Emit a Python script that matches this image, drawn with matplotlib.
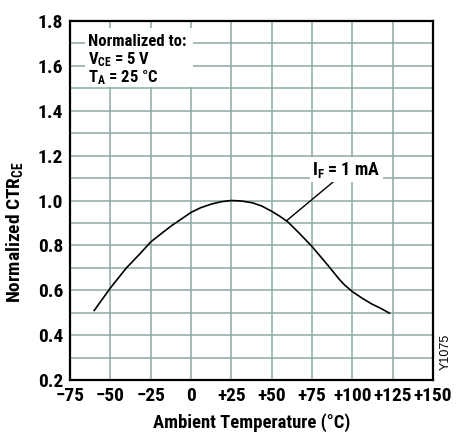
import matplotlib
matplotlib.use('Agg')
import matplotlib.pyplot as plt
from matplotlib import font_manager
from matplotlib.patches import Rectangle
import numpy as np

# data (IF = 1 mA)
temp = [-60, -55, -50, -45, -40, -32, -25, -18, -12, 0, 6, 13, 19, 25, 31, 38, 44, 50, 55, 60,
        67, 75, 85, 92, 95, 100, 106, 112, 118, 123]
ctr = [0.51, 0.56, 0.61, 0.655, 0.70, 0.76, 0.815, 0.855, 0.888, 0.947, 0.968, 0.985, 0.995, 1.0,
       0.998, 0.99, 0.975, 0.952, 0.93, 0.905, 0.855, 0.795, 0.71, 0.648, 0.625, 0.594, 0.565,
       0.539, 0.518, 0.498]

x_ticks = [-75, -50, -25, 0, 25, 50, 75, 100, 125, 150]
x_labels = ['\u221275', '\u221250', '\u221225', '0', '+25', '+50', '+75', '+100', '+125', '+150']
y_ticks = [0.2, 0.4, 0.6, 0.8, 1.0, 1.2, 1.4, 1.6, 1.8]

# condensed bold face if there is one
installed = {f.name for f in font_manager.fontManager.ttflist}
if 'Liberation Sans Narrow' in installed:
    fam, k = 'Liberation Sans Narrow', 1.0
elif 'Roboto Condensed' in installed:
    fam, k = 'Roboto Condensed', 0.96
else:
    fam, k = 'Liberation Sans', 0.88

plt.rcParams['font.family'] = [fam, 'DejaVu Sans']
plt.rcParams['font.weight'] = 'bold'
plt.rcParams['mathtext.fontset'] = 'custom'
plt.rcParams['mathtext.rm'] = fam + ':bold'
plt.rcParams['mathtext.it'] = fam + ':bold'
plt.rcParams['mathtext.bf'] = fam + ':bold'

grid_col = '#8EA8A8'

fig = plt.figure(figsize=(4.57, 4.36), dpi=100)
ax = fig.add_axes([0.1532, 0.1284, 0.7943, 0.8234])

ax.plot(temp, ctr, color='black', lw=1.2, zorder=3)

ax.set_xlim(-75, 150)
ax.set_ylim(0.2, 1.8)
ax.set_xticks(x_ticks)
ax.set_xticklabels(x_labels)
ax.set_yticks(y_ticks)
ax.set_yticklabels(['%.1f' % v for v in y_ticks])
ax.set_yticks(np.arange(0.3, 1.8, 0.2), minor=True)
ax.tick_params(which='both', length=0, labelsize=14.5 * k, pad=5)
ax.grid(True, which='both', color=grid_col, lw=1.1)
ax.set_axisbelow(True)
for s in ax.spines.values():
    s.set_linewidth(1.6)

ax.set_xlabel('Ambient Temperature (\u00b0C)', fontsize=14 * k, fontweight='bold', labelpad=6)
ax.set_ylabel(r'Normalized CTR$_{\mathrm{CE}}$', fontsize=14.5 * k, fontweight='bold')
ax.yaxis.set_label_coords(-0.124, 0.412)

# notes box at upper left
ax.add_patch(Rectangle((-65.7, 1.504), 67, 0.263, facecolor='white', edgecolor='none', zorder=2.5))
notes = ['Normalized to:', 'V$_{\\mathrm{CE}}$ = 5 V', 'T$_{\\mathrm{A}}$ = 25 \u00b0C']
for i, line in enumerate(notes):
    ax.text(-63.8, 1.709 - i * 0.0805, line, fontsize=12.5 * k, ha='left', va='center', zorder=4)

# curve label with leader line
ax.plot([91.3, 59.4], [1.102, 0.911], color='black', lw=1.0, zorder=3)
ax.text(96.4, 1.1375, 'I$_{\\mathrm{F}}$ = 1 mA', fontsize=13.5 * k, ha='center', va='center',
        bbox=dict(facecolor='white', edgecolor='none', pad=2), zorder=4)

fig.text(0.976, 0.193, 'Y1075', rotation=90, fontsize=9, fontweight='normal',
         family=['Liberation Sans', 'DejaVu Sans'], ha='center', va='center')

fig.savefig('out.png', dpi=100)
